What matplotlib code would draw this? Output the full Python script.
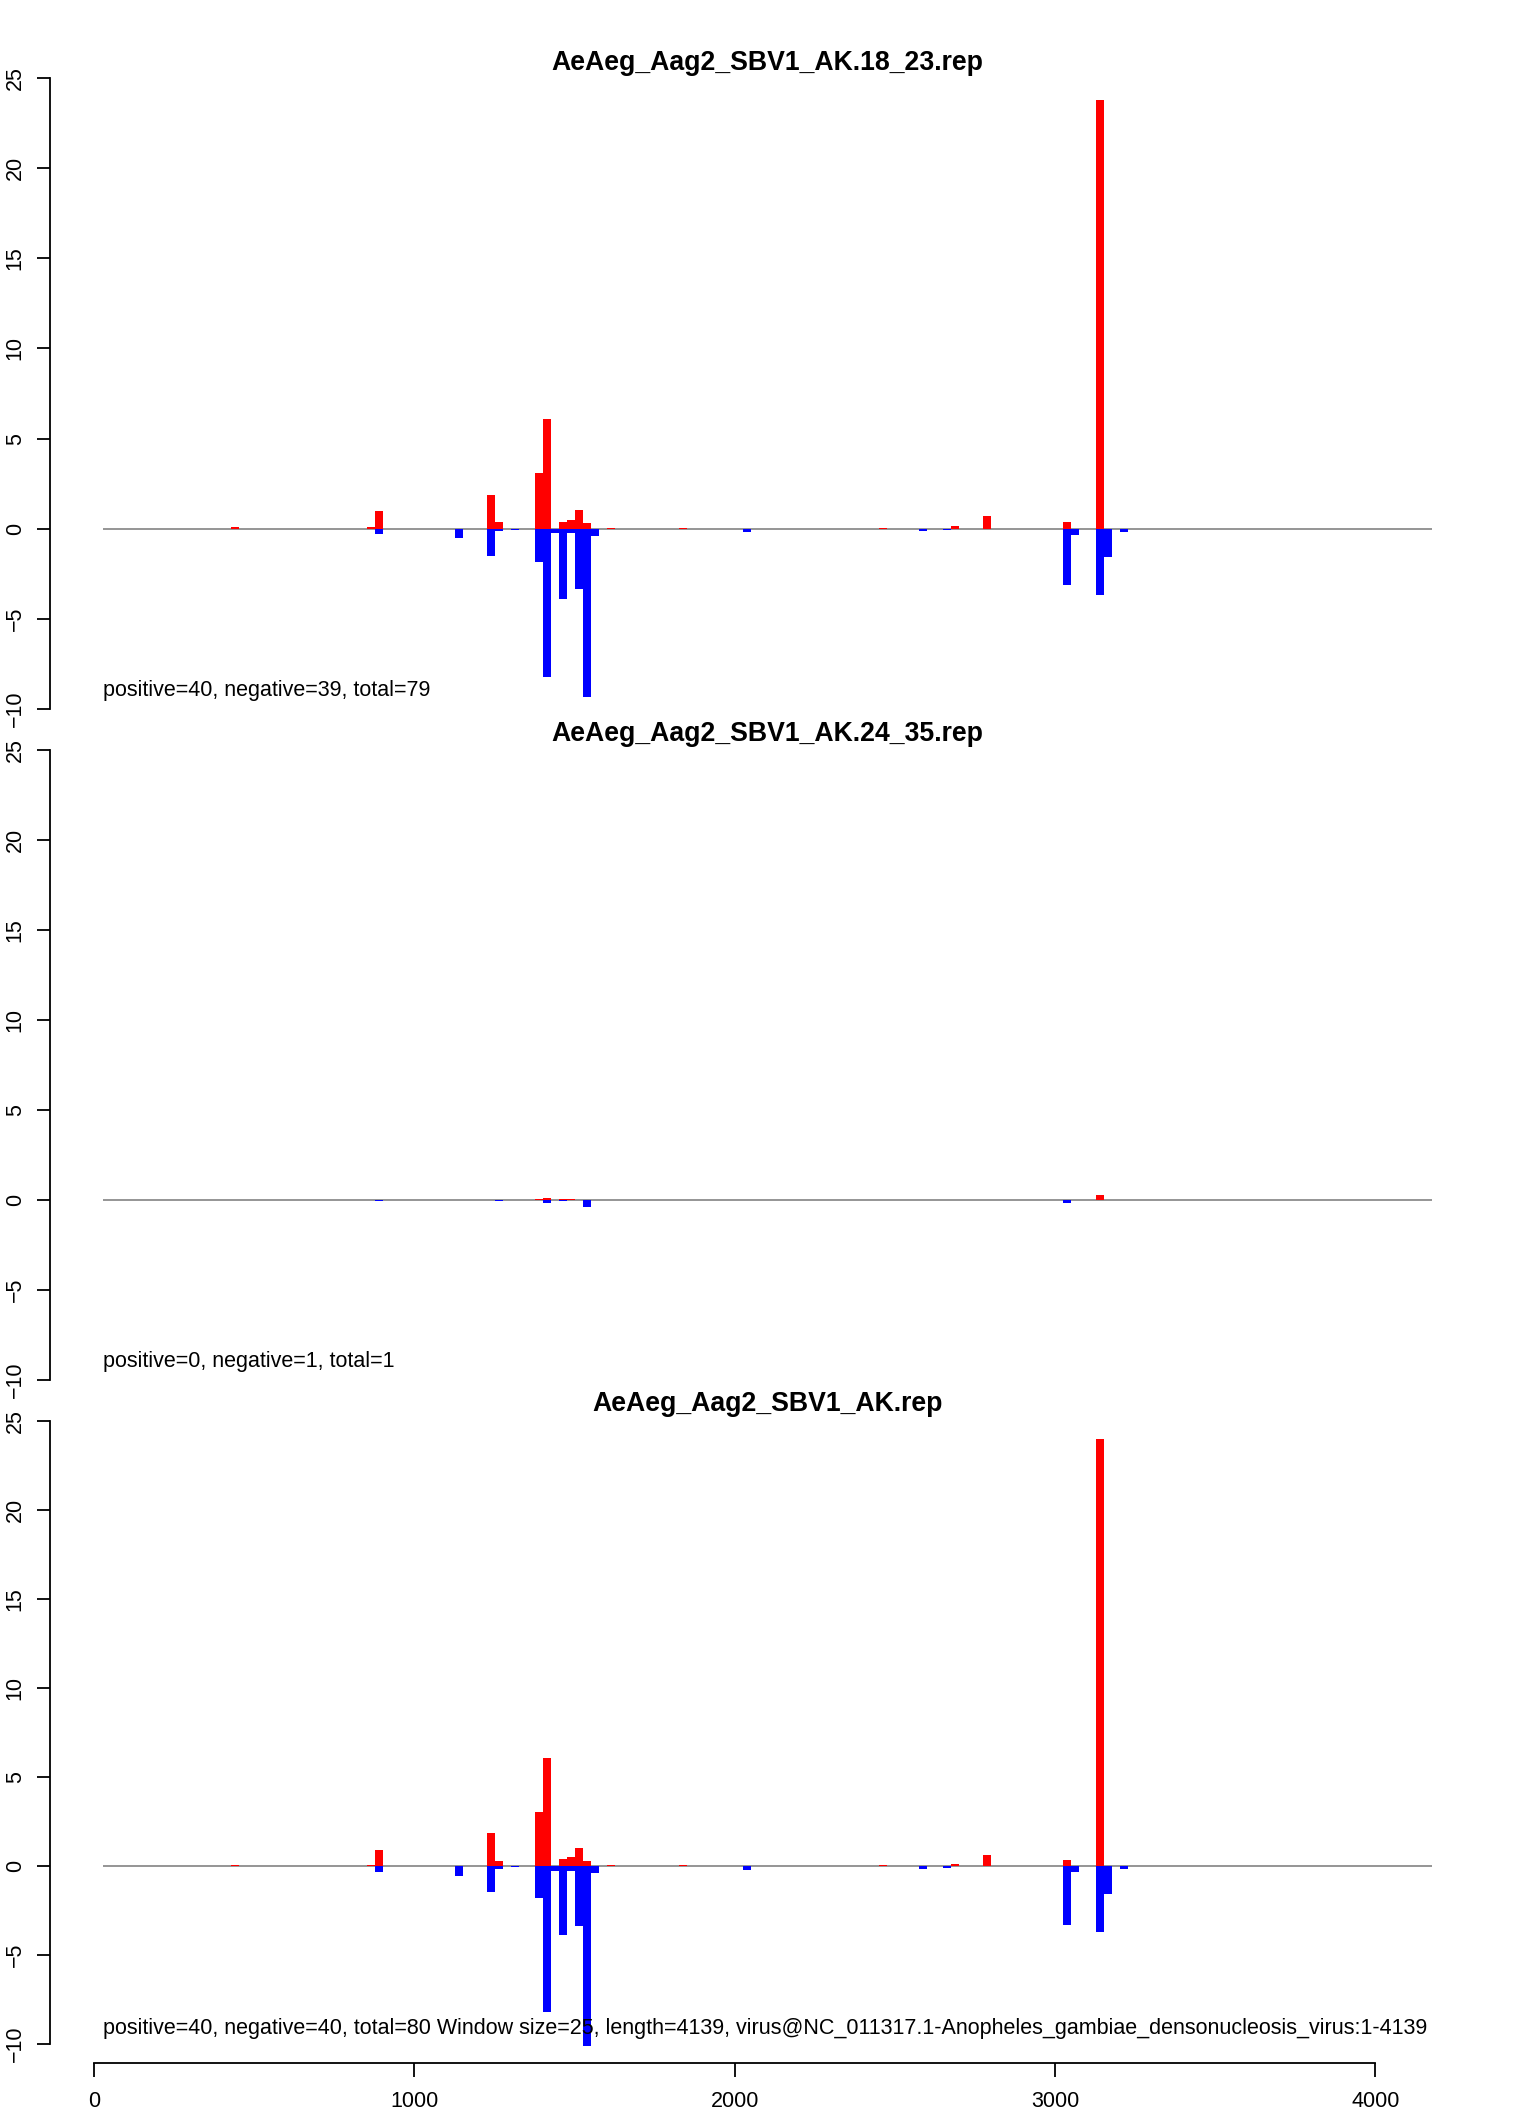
import matplotlib
matplotlib.use("Agg")
import matplotlib.pyplot as plt

W, H, DPI = 1536, 2112, 100
plt.rcParams['font.family'] = ['Liberation Sans', 'DejaVu Sans']

WINDOW = 25
titles = ["AeAeg_Aag2_SBV1_AK.18_23.rep",
          "AeAeg_Aag2_SBV1_AK.24_35.rep",
          "AeAeg_Aag2_SBV1_AK.rep"]
notes = ["positive=40, negative=39, total=79",
         "positive=0, negative=1, total=1",
         "positive=40, negative=40, total=80 Window size=25, length=4139, "
         "virus@NC_011317.1-Anopheles_gambiae_densonucleosis_virus:1-4139"]

# panel 1 (18-23 nt)
p1_pos_x = [426, 851, 876, 1226, 1251, 1376, 1401, 1451, 1476, 1501, 1526, 1601,
            1826, 2451, 2676, 2776, 3026, 3126]
p1_pos_y = [0.07, 0.07, 0.96, 1.85, 0.35, 3.07, 6.07, 0.35, 0.46, 1.02, 0.30, 0.04,
            0.04, 0.04, 0.13, 0.68, 0.35, 23.77]
p1_neg_x = [876, 1126, 1226, 1251, 1301, 1376, 1401, 1426, 1451, 1476, 1501, 1526,
            1551, 2026, 2576, 2651, 3026, 3051, 3126, 3151, 3201]
p1_neg_y = [-0.31, -0.52, -1.52, -0.13, -0.07, -1.85, -8.23, -0.22, -3.90, -0.22, -3.35,
            -9.34, -0.41, -0.20, -0.15, -0.09, -3.14, -0.35, -3.70, -1.57, -0.18]

# panel 2 (24-35 nt)
p2_pos_x = [1376, 1401, 1451, 1476, 3126]
p2_pos_y = [0.04, 0.11, 0.04, 0.04, 0.28]
p2_neg_x = [876, 1251, 1401, 1451, 1501, 1526, 3026]
p2_neg_y = [-0.05, -0.05, -0.17, -0.05, -0.04, -0.39, -0.17]

# panel 3 (all)
p3_pos_x = [426, 851, 876, 1226, 1251, 1376, 1401, 1451, 1476, 1501, 1526, 1601,
            1826, 2451, 2676, 2776, 3026, 3126]
p3_pos_y = [0.07, 0.07, 0.91, 1.85, 0.30, 3.07, 6.07, 0.41, 0.52, 1.02, 0.30, 0.04,
            0.04, 0.04, 0.13, 0.65, 0.35, 24.0]
p3_neg_x = [876, 1126, 1226, 1251, 1301, 1376, 1401, 1426, 1451, 1476, 1501, 1526,
            1551, 2026, 2576, 2651, 3026, 3051, 3126, 3151, 3201]
p3_neg_y = [-0.31, -0.54, -1.48, -0.15, -0.04, -1.81, -8.19, -0.26, -3.85, -0.26, -3.35,
            -10.1, -0.37, -0.20, -0.15, -0.09, -3.31, -0.35, -3.70, -1.57, -0.18]

panels = [(p1_pos_x, p1_pos_y, p1_neg_x, p1_neg_y),
          (p2_pos_x, p2_pos_y, p2_neg_x, p2_neg_y),
          (p3_pos_x, p3_pos_y, p3_neg_x, p3_neg_y)]

yticks = [-10, -5, 0, 5, 10, 15, 20, 25]
xticks = [0, 1000, 2000, 3000, 4000]
XRANGE = (28, 4176)

XL = (-137.9, 4341.9)
YL = (-11.08, 25.4)
# pixel rows of y=25 and y=-10 for each panel
rows = [(78.0, 709.0), (749.7, 1379.7), (1421.4, 2044.0)]
title_y = [63, 734, 1404]
x_left_px, x_right_px = 50, 1485

fig = plt.figure(figsize=(W / DPI, H / DPI), dpi=DPI)
FS = 15.5
for i, ((px, py, nx, ny), (y25, y10)) in enumerate(zip(panels, rows)):
    ppu = (y10 - y25) / 35.0
    top = y25 - (YL[1] - 25) * ppu
    bot = y10 + (-10 - YL[0]) * ppu
    ax = fig.add_axes([x_left_px / W, 1 - bot / H, (x_right_px - x_left_px) / W, (bot - top) / H])
    ax.patch.set_alpha(0)
    ax.set_xlim(*XL)
    ax.set_ylim(*YL)
    ax.hlines(0, XRANGE[0], XRANGE[1], color="#8c8c8c", lw=1.3, zorder=1)
    ax.bar(px, py, width=WINDOW, align="edge", color="#FF0000", linewidth=0, zorder=2)
    ax.bar(nx, ny, width=WINDOW, align="edge", color="#0000FF", linewidth=0, zorder=2)
    ax.text(XRANGE[0], -9.0 if i < 2 else -9.15, notes[i], ha="left", va="center", fontsize=FS)
    for s in ("top", "right"):
        ax.spines[s].set_visible(False)
    ax.spines["left"].set_bounds(-10, 25)
    ax.spines["left"].set_linewidth(1.3)
    ax.set_yticks(yticks)
    ax.set_yticklabels([str(v).replace("-", "\u2212") for v in yticks],
                       rotation=90, va="center", fontsize=FS)
    ax.tick_params(axis="y", length=9.5, width=1.3, pad=8)
    if i < 2:
        ax.spines["bottom"].set_visible(False)
        ax.set_xticks([])
    else:
        ax.spines["bottom"].set_bounds(0, 4000)
        ax.spines["bottom"].set_linewidth(1.3)
        ax.set_xticks(xticks)
        ax.set_xticklabels([str(v) for v in xticks], fontsize=FS)
        ax.tick_params(axis="x", length=10, width=1.3, pad=10)
    fig.text((x_left_px + x_right_px) / 2 / W, 1 - title_y[i] / H, titles[i],
             ha="center", va="center", fontsize=19.2, fontweight="bold")

fig.savefig("out.png", dpi=DPI)
